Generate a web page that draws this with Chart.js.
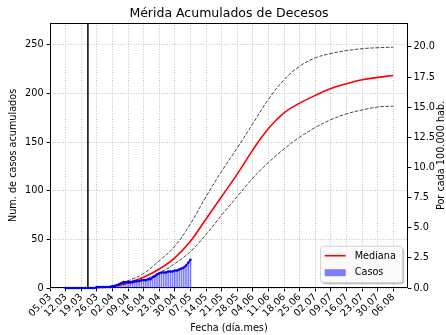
<!DOCTYPE html>
<html><head><meta charset="utf-8">
<script src="https://cdn.jsdelivr.net/npm/chart.js@4/dist/chart.umd.min.js"></script>
<style>html,body{margin:0;padding:0;background:#fff}#wrap{width:446px;height:335px}</style>
</head><body><div id="wrap"><canvas id="c" width="446" height="335"></canvas></div>
<script>
// ---- data ----
const tituloGrafica = 'Mérida Acumulados de Decesos';
const fechaInicio = [2020, 2, 5]; // 05.03 = día 0
const tickDias = [0,7,14,21,28,35,42,49,56,63,70,77,84,91,98,105,112,119,126,133,140,147,154];
const ticksCasos = [0,50,100,150,200,250];
const ticksTasa = [0,2.5,5,7.5,10,12.5,15,17.5,20];
const casosDiaInicio = 7;
const casos = [0,0,0,0,0,0,0,0,0,0,0,0,0,0,
  1,1,1,1,1,1,1,
  2,2,3,4,5,6,6,6,6,6,7,7,7,8,8,8,9,9,11,12,14,15,16,16,16,17,17,17,18,18,19,20,21,23,26,29];
const diasCurva = [7,14,21,28,35,42,49,56,63,70,77,84,91,98,105,112,119,126,133,140,147,154];
const mediana = [0,0,0.3,1.7,5.5,11,19.5,31,48,71,94,117,142,164,180,190,198,205,210,214,216.5,218.5];
const limiteSuperior = [0,0,0.4,2.2,7.5,15,28,43,66,94,120,144,169,194,214,228,236.5,241,244,246,247,247.5];
const limiteInferior = [0,0,0.2,1.3,4.5,8.5,15.5,25,37.5,55,75,94,113,129,143,155,165,173,179,183,186,187];
const diaMarca = 17;
const xMax = 160.6;
const yMaxCasos = 272.6;
const yMaxTasa = 22;

// ---- helpers ----
function etiquetaDia(d){
  const dt = new Date(fechaInicio[0], fechaInicio[1], fechaInicio[2] + d);
  return String(dt.getDate()).padStart(2,'0') + '.' + String(dt.getMonth()+1).padStart(2,'0');
}
const FONT = 'DejaVu Sans';
Chart.defaults.font.family = FONT;
Chart.defaults.color = '#000';
const casosPts = casos.map((v,i)=>({x: casosDiaInicio + i, y: v}));
const pts = arr => diasCurva.map((d,i)=>({x:d, y:arr[i]}));

const extras = {
  id: 'extras',
  beforeDatasetsDraw(chart){
    const {ctx, chartArea: a} = chart;
    ctx.save();
    ctx.strokeStyle = '#000'; ctx.lineWidth = 1;
    ctx.strokeRect(Math.round(a.left)+0.5, Math.round(a.top)+0.5, Math.round(a.right-a.left)-1, Math.round(a.bottom-a.top)-1);
    ctx.restore();
  },
  afterDatasetsDraw(chart){
    const {ctx, chartArea: a} = chart;
    ctx.save();
    // legend
    const w = 82, h = 36.5;
    const x0 = a.right - 5.3 - w, y0 = a.bottom - 5.3 - h;
    const rr = (x,y,W,H,r)=>{ctx.beginPath();ctx.moveTo(x+r,y);ctx.lineTo(x+W-r,y);ctx.quadraticCurveTo(x+W,y,x+W,y+r);ctx.lineTo(x+W,y+H-r);ctx.quadraticCurveTo(x+W,y+H,x+W-r,y+H);ctx.lineTo(x+r,y+H);ctx.quadraticCurveTo(x,y+H,x,y+H-r);ctx.lineTo(x,y+r);ctx.quadraticCurveTo(x,y,x+r,y);ctx.closePath();};
    rr(x0+1.5,y0+1.5,w,h,3); ctx.fillStyle='rgba(0,0,0,0.25)'; ctx.fill();
    rr(x0,y0,w,h,3); ctx.fillStyle='rgba(255,255,255,0.92)'; ctx.fill();
    ctx.strokeStyle='#cccccc'; ctx.lineWidth=1; ctx.stroke();
    const dsMed = chart.data.datasets.find(d=>d.label==='Mediana');
    const dsCas = chart.data.datasets.find(d=>d.label==='Casos');
    ctx.strokeStyle = dsMed.borderColor; ctx.lineWidth = dsMed.borderWidth;
    ctx.beginPath(); ctx.moveTo(x0+4, y0+9.5); ctx.lineTo(x0+25, y0+9.5); ctx.stroke();
    ctx.fillStyle = dsCas.backgroundColor;
    ctx.fillRect(x0+4, y0+23, 21, 7);
    ctx.fillStyle = '#000'; ctx.font = '9.7px "' + FONT + '"'; ctx.textBaseline='middle'; ctx.textAlign='left';
    ctx.fillText(dsMed.label, x0+34, y0+10);
    ctx.fillText(dsCas.label, x0+34, y0+26.5);
    // right axis title (reads bottom-to-top)
    ctx.save();
    ctx.translate(441.5, (a.top+a.bottom)/2);
    ctx.rotate(-Math.PI/2);
    ctx.textAlign='center'; ctx.textBaseline='middle';
    ctx.fillText('Por cada 100.000 hab.', 0, 0);
    ctx.restore();
    ctx.restore();
  }
};

const gridCommon = {color:'#b0b0b0', lineWidth:0.8, tickLength:3.4, tickColor:'#000', tickWidth:1, tickBorderDash:[]};
const borderCommon = {display:false, dash:[1,1.6]};
const tickFont = {family: FONT, size: 9.7};
const curva = {pointRadius:0, tension:0.4, clip:false, yAxisID:'y'};

new Chart(document.getElementById('c'), {
  type: 'line',
  data: {
    datasets: [
      {label:'marca', type:'line', data:[{x:diaMarca,y:0},{x:diaMarca,y:yMaxCasos}], borderColor:'#000', borderWidth:1.5, pointRadius:0, order:0, yAxisID:'y'},
      {label:'CasosLinea', type:'line', data: casosPts, borderColor:'#0000ff', borderWidth:1.4, pointRadius:1.3, pointBackgroundColor:'#0000ff', pointBorderWidth:0, clip:false, order:1, yAxisID:'y'},
      Object.assign({label:'Mediana', type:'line', data: pts(mediana), borderColor:'#ff0000', borderWidth:1.6, order:2}, curva),
      Object.assign({label:'Superior', type:'line', data: pts(limiteSuperior), borderColor:'rgba(0,0,0,0.8)', borderWidth:0.9, borderDash:[3.6,1.6], order:3}, curva),
      Object.assign({label:'Inferior', type:'line', data: pts(limiteInferior), borderColor:'rgba(0,0,0,0.8)', borderWidth:0.9, borderDash:[3.6,1.6], order:3}, curva),
      {label:'Casos', type:'bar', data: casosPts, backgroundColor:'rgba(0,0,255,0.5)', barThickness:1, order:5, yAxisID:'y'}
    ]
  },
  options: {
    responsive:false, animation:false,
    layout:{padding:0},
    plugins:{
      legend:{display:false}, tooltip:{enabled:false},
      title:{display:true, text:tituloGrafica, fullSize:false, color:'#000', font:{family:FONT, size:12.5, weight:'normal'}, padding:{top:6, bottom:1.8}}
    },
    scales:{
      x:{type:'linear', position:'bottom', min:0, max:xMax, offset:false,
        afterBuildTicks: s=>{ s.ticks = tickDias.map(v=>({value:v})); },
        afterFit: s=>{ s.height = 47; },
        ticks:{autoSkip:false, minRotation:45, maxRotation:45, padding:0, font:tickFont, color:'#000', callback:v=>etiquetaDia(v)},
        grid:Object.assign({offset:false}, gridCommon), border:borderCommon,
        title:{display:true, text:'Fecha (día.mes)', font:tickFont, color:'#000', padding:{top:0,bottom:1}}
      },
      y:{type:'linear', position:'left', min:0, max:yMaxCasos,
        afterBuildTicks: s=>{ s.ticks = ticksCasos.map(v=>({value:v})); },
        afterFit: s=>{ s.width = 50; },
        ticks:{padding:3, font:tickFont, color:'#000'},
        grid:gridCommon, border:borderCommon,
        title:{display:true, text:'Num. de casos acumulados', font:tickFont, color:'#000', padding:{top:8,bottom:0}}
      },
      y2:{type:'linear', position:'right', min:0, max:yMaxTasa,
        afterBuildTicks: s=>{ s.ticks = ticksTasa.map(v=>({value:v})); },
        afterFit: s=>{ s.width = 38; },
        ticks:{padding:2, font:tickFont, color:'#000', callback:v=>Number(v).toFixed(1)},
        grid:Object.assign({}, gridCommon, {drawOnChartArea:false}), border:{display:false}
      }
    }
  },
  plugins:[extras]
});
</script>
</body></html>
